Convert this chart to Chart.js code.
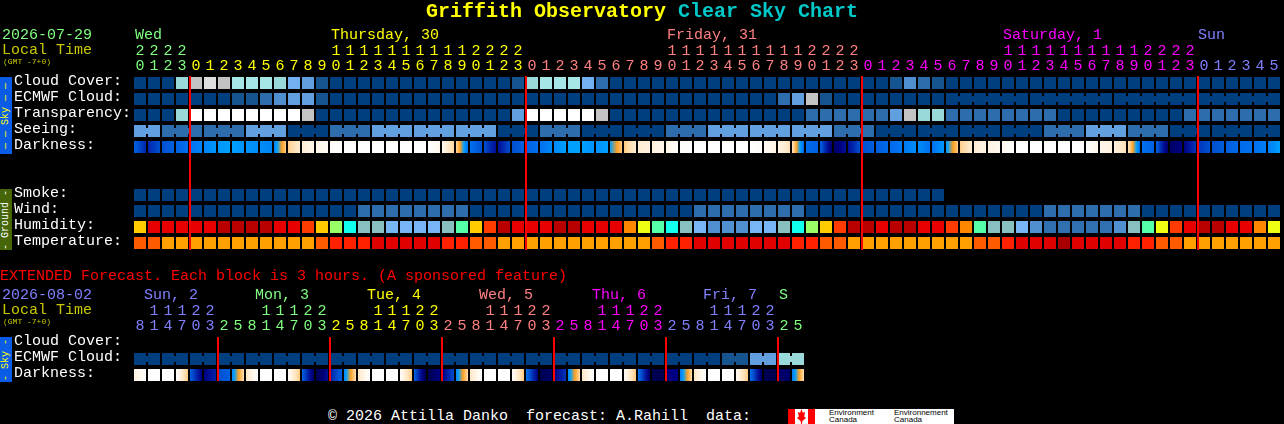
<!DOCTYPE html>
<html>
<head>
<meta charset="utf-8">
<title>Griffith Observatory Clear Sky Chart</title>
<script src="https://cdn.jsdelivr.net/npm/chart.js@4"></script>
<style>
  html, body { margin: 0; background: #000; }
  #page { position: relative; width: 1284px; height: 424px; overflow: hidden; background: #000;
          font: 15px/15px "Liberation Mono", monospace; }
  #page canvas { position: absolute; left: 0; }
  .t { position: absolute; white-space: pre; }
  .small { font-size: 8px; line-height: 8px; color: #c8c800; }
  .strip { position: absolute; left: 0; width: 12px; display: flex; align-items: center; justify-content: center;
           font-size: 10px; line-height: 12px; writing-mode: vertical-rl; transform: rotate(180deg); white-space: pre; }
  #logo { position: absolute; left: 788px; top: 409px; width: 166px; height: 15px; background: #fff; overflow: hidden; }
  #logo i { position: absolute; top: 0; height: 15px; background: #f00; }
  #logo b { position: absolute; font: 8px/7px "Liberation Sans", sans-serif; color: #000; white-space: pre; top: 0; }
</style>
</head>
<body>
<div id="page">
  <canvas id="mainChart" width="1284" height="252" style="top:0"></canvas>
  <canvas id="extChart" width="806" height="124" style="top:260px"></canvas>

  <div class="t" style="left:426px;top:0;font-size:20px;line-height:23px;font-weight:bold;color:#ff0">Griffith Observatory <span style="color:#00c8c8">Clear Sky Chart</span></div>

  <div class="t" style="left:2px;top:28px;color:#80ff80">2026-07-29</div>
  <div class="t" style="left:2px;top:43px;color:#c8c800">Local Time</div>
  <div class="t small" style="left:3px;top:58px">(GMT -7+0)</div>
  <div class="t" style="left:135px;top:28px;color:#80ff80">Wed</div>
  <div class="t" style="left:331px;top:28px;color:#ff0">Thursday, 30</div>
  <div class="t" style="left:667px;top:28px;color:#ff8080">Friday, 31</div>
  <div class="t" style="left:1003px;top:28px;color:#f0f">Saturday, 1</div>
  <div class="t" style="left:1198px;top:28px;color:#8080ff">Sun</div>

  <div class="strip" style="top:77px;height:77px;background:#0a5ce6;color:#ff0">— — Sky — —</div>
  <div class="strip" style="top:189px;height:61px;background:#466608;color:#fff">- Ground -</div>

  <div class="t" style="left:0;top:269px;color:#f00">EXTENDED Forecast. Each block is 3 hours. (A sponsored feature)</div>
  <div class="t" style="left:2px;top:288px;color:#8080ff">2026-08-02</div>
  <div class="t" style="left:2px;top:303px;color:#c8c800">Local Time</div>
  <div class="t small" style="left:3px;top:318px">(GMT -7+0)</div>
  <div class="t" style="left:144px;top:288px;color:#8080ff">Sun, 2</div>
  <div class="t" style="left:255px;top:288px;color:#80ff80">Mon, 3</div>
  <div class="t" style="left:367px;top:288px;color:#ff0">Tue, 4</div>
  <div class="t" style="left:479px;top:288px;color:#ff8080">Wed, 5</div>
  <div class="t" style="left:592px;top:288px;color:#f0f">Thu, 6</div>
  <div class="t" style="left:703px;top:288px;color:#8080ff">Fri, 7</div>
  <div class="t" style="left:779px;top:288px;color:#80ff80">S</div>
  <div class="strip" style="top:337px;height:45px;background:#0a5ce6;color:#ff0">- Sky -</div>

  <div class="t" style="left:328px;top:409px;color:#fff">© 2026 Attilla Danko  forecast: A.Rahill  data:</div>
  <div id="logo">
    <i style="left:0;width:7px"></i><i style="left:20px;width:7px"></i>
    <i style="left:9px;width:9px;clip-path:polygon(50% 0,65% 25%,90% 20%,80% 50%,100% 60%,60% 80%,55% 100%,45% 100%,40% 80%,0 60%,20% 50%,10% 20%,35% 25%)"></i>
    <b style="left:41px">Environment
Canada</b>
    <b style="left:106px">Environnement
Canada</b>
  </div>
</div>

<script>
/* Clear sky chart — every block row is a floating bar dataset on a row/column grid. */
const hourLabels = [20,21,22,23,
  0,1,2,3,4,5,6,7,8,9,10,11,12,13,14,15,16,17,18,19,20,21,22,23,
  0,1,2,3,4,5,6,7,8,9,10,11,12,13,14,15,16,17,18,19,20,21,22,23,
  0,1,2,3,4,5,6,7,8,9,10,11,12,13,14,15,16,17,18,19,20,21,22,23,
  0,1,2,3,4,5];
const extHourLabels = [8,11,14,17,20,23,2,5,8,11,14,17,20,23,2,5,8,11,14,17,20,23,2,5,
  8,11,14,17,20,23,2,5,8,11,14,17,20,23,2,5,8,11,14,17,20,23,2,5];

const rowLabels = ["Cloud Cover:","ECMWF Cloud:","Transparency:","Seeing:","Darkness:","","","Smoke:","Wind:","Humidity:","Temperature:"];
const extRowLabels = ["Cloud Cover:","ECMWF Cloud:","Darkness:"];

// index into skyColors
const cloudCover = [0,0,0,6,8,9,8,7,7,7,6,5,4,1,0,0,0,0,0,0,0,0,0,0,0,0,0,1,6,7,7,7,5,2,
  0,0,0,0,0,0,0,0,0,0,0,0,0,0,0,0,0,0,0,0,1,3,2,1,
  0,0,0,0,0,0,0,0,0,0,0,0,0,0,0,0,0,0,0,0,0,0,0,0];
const ecmwfCloud = [0,0,0,0,0,0,0,1,1,2,3,4,4,1,
  0,0,0,0,0,0,0,0,0,0,0,0,0,0,0,0,0,0,0,0,0,0,0,0,0,0,0,0,0,0,0,0,2,4,8,1,
  0,0,0,0,0,0,0,0,0,0,0,0,0,0,0,0,0,0,0,0,0,0,0,0,0,0,0,0,0,0,0,0];
const transparency = [0,0,0,6,10,10,10,10,10,10,10,10,8,
  0,0,0,0,0,0,0,0,0,0,0,0,0,0,4,10,10,10,10,10,8,
  0,0,0,0,0,0,0,0,0,0,0,0,0,0,2,2,2,2,2,2,4,8,6,6,
  2,2,2,2,2,2,2,2,0,0,0,0,0,0,0,0,0,2,2,2,2,2,2,2];
const seeing = [4,4,2,2,2,2,2,2,4,4,4,0,0,0,2,2,2,4,4,4,4,4,4,4,4,4,0,0,0,2,2,2,0,0,0,0,0,0,
  2,2,2,4,4,4,4,4,4,4,4,4,2,2,2,0,0,0,0,0,0,0,0,0,0,0,0,2,2,2,4,4,4,2,2,2,0,0,0,0,0,0,0,0];
const smoke = [0,0,0,0,0,0,0,0,0,0,0,0,0,0,0,0,0,0,0,0,0,0,0,0,0,0,0,0,0,
  0,0,0,0,0,0,0,0,0,0,0,0,0,0,0,0,0,0,0,0,0,0,0,0,0,0,0,0,0];
const wind = [0,0,0,0,0,0,0,0,0,0,0,0,0,0,0,0,2,2,2,2,2,2,2,2,
  0,0,0,0,0,0,0,0,0,0,0,0,0,0,0,0,2,2,2,2,2,2,2,2,
  0,0,0,0,0,0,0,0,0,0,0,0,0,0,0,0,0,2,2,2,2,2,2,2,0,0,0,0,0,0,0,0,0,0];
// index into humidityColors
const humidity = [5,1,1,1,1,1,0,0,0,0,1,1,3,5,7,9,10,10,11,11,11,11,10,8,5,3,0,
  1,1,1,0,0,1,1,1,4,6,8,9,10,11,12,12,12,11,11,10,9,7,5,3,0,
  0,1,0,0,1,1,3,4,8,10,10,11,12,13,13,13,13,13,12,10,8,6,3,1,0,0,1,1,4,6];
// index into temperatureColors
const temperature = [1,1,0,0,0,0,0,0,0,0,0,0,0,1,2,2,2,3,3,3,3,3,2,2,1,1,
  0,0,0,0,0,0,0,0,0,0,0,1,2,2,3,3,3,3,3,3,3,2,2,1,1,
  0,0,0,0,0,0,0,0,0,1,1,2,3,3,3,4,3,3,3,3,2,2,1,1,0,0,0,0,0,0,0];
// position on darknessRamp at the block edges, 83 edges for 82 blocks
const darknessEdges = [5.5,6.9,6,5.5,5,4.6,4.2,4,4.3,4.4,4.6,2.2,1.2,0.7,0.3,0,0,0,0,0,0,0,0.6,2,5,6,7.5,6,5.5,5,4.5,4,4,4.3,4,2.3,
  1.2,1,0.7,0.2,0,0,0,0,0,0.3,0.8,1.6,5.2,5.5,8.5,7.5,6,5.6,5.2,4.8,4.4,5,4.2,2.2,1.2,0.9,0.5,0,0,0,0,0,0,0.6,1,1.6,5,5.5,8.5,8,6.5,6,5.6,5.2,5,4.7,4];

const extEcmwfCloud = [0,0,0,0,0,0,0,0,0,0,0,0,0,0,0,0,0,0,0,0,0,0,0,0,
  0,0,0,0,0,0,0,0,0,0,0,0,0,0,0,0,0,0,1,1,4,4,6,6];
const extDarknessStart = [1,0,0,0.2,5.5,8,6,4.5, 1.5,0,0,0.3,5.5,9,7,4.5, 1.5,0,0,0.3,5.5,9,8,4.5,
  1.5,0,0,0.3,5,9,8,4.5, 1.5,0,0,0.4,5,9,8,4.8, 1.5,0,0,0.5,5,9,8.5,4.8];
const extDarknessEnd = [0,0,0,2.3,8,7,5.5,1.8, 0.1,0,0,2.3,8.5,7.5,5.5,1.8, 0,0,0,2.3,9,8,6,1.9,
  0,0,0,2.3,8,8.5,6.5,1.9, 0,0,0,2.3,8.5,9,8,1.9, 0,0,0,2.3,8.5,9,8.5,1.8];

const midnightCols = [4,28,52,76];
const extMidnightCols = [6,14,22,30,38,46];

const skyColors = ["#003f7f","#15548f","#2e6dac","#4f8fcf","#619fdf","#72b0f2","#99d9d9","#a6e6e6","#c3c3c3","#dedede","#ffffff"];
const humidityColors = ["#b80000","#e60000","#ee0000","#ff3c00","#ff8800","#ffcc00","#eeff11","#99ff66","#55ffaa","#11ffee","#88c0c0","#77b5f5","#5090d0","#3070b0"];
const temperatureColors = ["#ffa000","#ff5a00","#ff2000","#e00000","#a80000"];
const darknessRamp = [[255,255,255],[255,242,224],[255,216,160],[255,160,32],[0,160,255],[0,112,240],[0,80,208],[0,32,168],[0,0,128],[0,0,80]];

const dayColors = { wed:"#80ff80", thu:"#ffff00", fri:"#ff8080", sat:"#ff00ff", sun:"#8080ff" };
const hourColors = hourLabels.map((_, i) => i < 4 ? dayColors.wed : i < 28 ? dayColors.thu : i < 52 ? dayColors.fri : i < 76 ? dayColors.sat : dayColors.sun);
const extDayOrder = [dayColors.wed, dayColors.thu, dayColors.fri, dayColors.sat, dayColors.sun, dayColors.wed];
const extHourColors = extHourLabels.map((_, i) => i < 6 ? dayColors.sun : extDayOrder[Math.floor((i - 6) / 8)]);

const BLOCK = 0.375;   // half block height, in rows
const LINK = 0.1875;   // half joiner height, in rows
const MIDNIGHT_SHIFT = 1 / 14;   // midnight line sits one pixel right of the column boundary
const LABEL_LIFT = 0.1;   // row names sit slightly above the middle of their blocks

function rampColor(v) {
  v = Math.max(0, Math.min(darknessRamp.length - 1, v));   // rounding can step just past the ends
  const lo = Math.floor(v), hi = Math.min(lo + 1, darknessRamp.length - 1), f = v - lo;
  const c = darknessRamp[lo].map((a, k) => Math.round(a + (darknessRamp[hi][k] - a) * f));
  return `rgb(${c[0]},${c[1]},${c[2]})`;
}

function blockRow(label, row, levels, palette) {
  return {
    label, order: 3, barThickness: 12, grouped: false, inflateAmount: 0,
    data: levels.map((_, i) => ({ x: i, y: [row - BLOCK, row + BLOCK] })),
    backgroundColor: levels.map((v) => palette[v]),
  };
}

function darknessRow(label, row, starts, ends) {
  return {
    label, order: 3, barThickness: 12, grouped: false, inflateAmount: 0,
    data: starts.map((_, i) => ({ x: i, y: [row - BLOCK, row + BLOCK] })),
    backgroundColor: (c) => {
      const xs = c.chart.scales.x;
      if (c.dataIndex === undefined || !xs) return "#000";
      const mid = xs.getPixelForValue(c.dataIndex);
      if (!Number.isFinite(mid)) return "#000";
      const g = c.chart.ctx.createLinearGradient(mid - 6, 0, mid + 6, 0);
      for (let s = 0; s <= 12; s++) {
        g.addColorStop(s / 12, rampColor(starts[c.dataIndex] + (ends[c.dataIndex] - starts[c.dataIndex]) * s / 12));
      }
      return g;
    },
  };
}

// narrow joiners between blocks that belong to one longer forecast period
function joinerRow(label, row, levels, palette, cols) {
  return {
    label, order: 2, barThickness: 2, grouped: false, inflateAmount: 0,
    data: cols.map((i) => ({ x: i + 0.5, y: [row - LINK, row + LINK] })),
    backgroundColor: cols.map((i) => palette[levels[i]]),
  };
}

function periodJoins(first, size, last) {
  const cols = [];
  for (let i = first; i < last; i++) if ((i + 1 - first) % size !== 0) cols.push(i);
  return cols;
}

function midnightLines(cols, top, bottom) {
  return {
    label: "midnight", order: 1, barThickness: 2, grouped: false, inflateAmount: 0,
    data: cols.map((c) => ({ x: c - 0.5 + MIDNIGHT_SHIFT, y: [top, bottom] })),
    backgroundColor: "#ff0000",
  };
}

// labels overhang the plot at its edges; keep the layout from shrinking the plot for them
function fixedFit(s, size) {
  if (s.isHorizontal()) s.height = size; else s.width = size;
  s.paddingLeft = s.paddingRight = s.paddingTop = s.paddingBottom = 0;
}

function blockChart(id, hours, colors, labels, datasets, rightPad) {
  return new Chart(document.getElementById(id), {
    type: "bar",
    data: { datasets },
    options: {
      responsive: false, animation: false, devicePixelRatio: 1,
      layout: { padding: { left: 14, right: rightPad, top: 0, bottom: 1 } },
      plugins: { legend: { display: false }, tooltip: { enabled: false } },
      scales: {
        x: {
          type: "linear", position: "top", offset: false, min: -0.5, max: hours.length - 0.5,
          grid: { display: false, drawTicks: false }, border: { display: false },
          afterFit: (s) => fixedFit(s, 75),
          afterBuildTicks: (s) => { s.ticks = hours.map((_, i) => ({ value: i })); },
          ticks: {
            autoSkip: false, maxRotation: 0, padding: 1,
            font: { family: "Liberation Mono", size: 15, lineHeight: 1 },
            color: (c) => colors[c.index],
            callback: (v) => (hours[v] >= 10 ? [String(hours[v])[0], String(hours[v])[1]] : ["", String(hours[v])]),
          },
        },
        y: {
          type: "linear", reverse: true, min: -0.5, max: labels.length - 0.5,
          grid: { display: false, drawTicks: false }, border: { display: false },
          afterFit: (s) => fixedFit(s, 119),
          afterBuildTicks: (s) => { s.ticks = labels.map((_, i) => ({ value: i - LABEL_LIFT })); },
          ticks: {
            autoSkip: false, crossAlign: "far", padding: 0, color: "#ffffff",
            font: { family: "Liberation Mono", size: 15 },
            callback: (v, i) => labels[i],
          },
        },
      },
    },
  });
}

blockChart("mainChart", hourLabels, hourColors, rowLabels, [
  midnightLines(midnightCols, -0.4375, 10.4375),
  joinerRow("ECMWF Cloud links", 1, ecmwfCloud, skyColors, periodJoins(58, 6, 81)),
  joinerRow("Seeing links", 3, seeing, skyColors, [0].concat(periodJoins(2, 3, 81))),
  blockRow("Cloud Cover", 0, cloudCover, skyColors),
  blockRow("ECMWF Cloud", 1, ecmwfCloud, skyColors),
  blockRow("Transparency", 2, transparency, skyColors),
  blockRow("Seeing", 3, seeing, skyColors),
  darknessRow("Darkness", 4, darknessEdges.slice(0, -1), darknessEdges.slice(1)),
  blockRow("Smoke", 7, smoke, skyColors),
  blockRow("Wind", 8, wind, skyColors),
  blockRow("Humidity", 9, humidity, humidityColors),
  blockRow("Temperature", 10, temperature, temperatureColors),
], 3);

blockChart("extChart", extHourLabels, extHourColors, extRowLabels, [
  midnightLines(extMidnightCols, -0.375, 2.375),
  joinerRow("ECMWF Cloud links", 1, extEcmwfCloud, skyColors, periodJoins(0, 2, 47)),
  blockRow("ECMWF Cloud", 1, extEcmwfCloud, skyColors),
  darknessRow("Darkness", 2, extDarknessStart, extDarknessEnd),
], 1);
</script>
</body>
</html>
